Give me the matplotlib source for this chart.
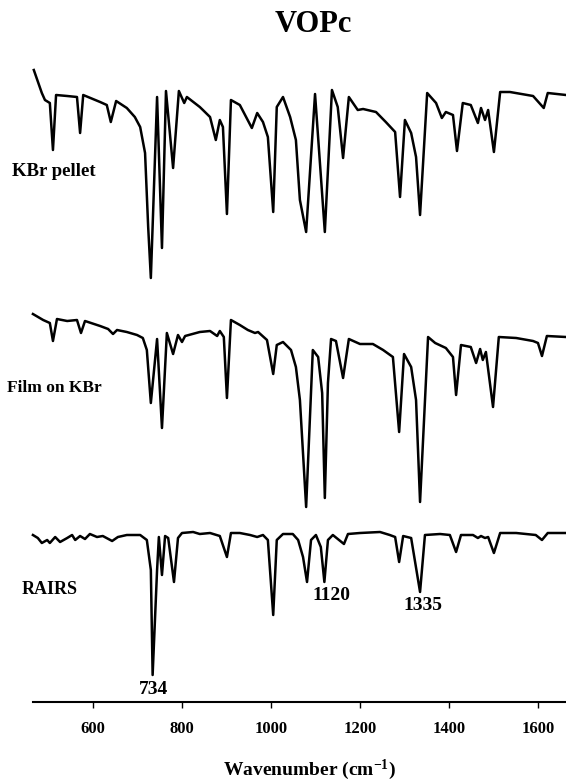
import matplotlib
matplotlib.use("Agg")
import matplotlib.pyplot as plt

# IR spectra of VOPc (wavenumber in cm-1, intensity in a.u.)
kbr_wn = [467, 485, 492, 503, 510, 517, 542, 564, 571, 578, 616, 631, 640, 652,
          676, 694, 706, 717, 724, 730, 744, 755, 764, 780, 793, 805, 811, 840,
          847, 863, 876, 885, 892, 901, 910, 930, 957, 969, 982, 993, 1005, 1013,
          1027, 1043, 1056, 1065, 1079, 1099, 1121, 1137, 1150, 1162, 1175, 1195,
          1207, 1236, 1258, 1279, 1290, 1301, 1315, 1326, 1335, 1351, 1371, 1384,
          1393, 1409, 1418, 1431, 1449, 1465, 1472, 1481, 1488, 1501, 1515, 1537,
          1589, 1613, 1622, 1663]
kbr_int = [25, 2, -5, -8, -55, 0, -1, -2, -38, 0, -7, -10, -27, -6,
           -13, -22, -32, -58, -132, -183, -2, -153, 4, -73, 4, -8, -2, -12,
           -15, -22, -45, -25, -32, -119, -5, -10, -33, -18, -27, -42, -117, -12,
           -2, -22, -45, -105, -137, 1, -137, 5, -12, -63, -2, -15,
           -14, -17, -27, -37, -102, -25, -38, -62, -120, 2, -8, -23,
           -17, -20, -56, -8, -10, -28, -13, -25, -15, -57, 3, 3,
           -1, -13, 2, 0]

film_wn = [465, 488, 503, 510, 519, 542, 564, 573, 582, 616, 634, 645, 654, 676,
           699, 712, 721, 730, 744, 755, 766, 780, 791, 800, 807, 840, 863, 879,
           885, 894, 901, 910, 930, 948, 964, 971, 991, 1005, 1013, 1027, 1045,
           1056, 1065, 1079, 1094, 1106, 1115, 1121, 1128, 1135, 1146, 1162, 1175,
           1200, 1229, 1252, 1274, 1288, 1299, 1315, 1326, 1335, 1353, 1369, 1393,
           1409, 1416, 1427, 1449, 1461, 1470, 1476, 1483, 1499, 1512, 1551, 1589,
           1600, 1609, 1620, 1663]
film_int = [21, 15, 12, -6, 16, 14, 15, 2, 14, 9, 6, 1, 5, 3,
            0, -3, -15, -68, -4, -93, 2, -19, 0, -7, -1, 3, 4, -1,
            4, -2, -63, 15, 10, 5, 2, 3, -5, -39, -10, -7, -15,
            -32, -65, -172, -15, -22, -58, -163, -48, -4, -6, -43, -4,
            -9, -9, -15, -22, -97, -19, -32, -65, -167, -2, -8, -13,
            -22, -60, -10, -12, -28, -14, -25, -17, -72, -2, -3, -6,
            -8, -21, -1, -2]

rairs_wn = [465, 476, 485, 497, 503, 515, 526, 542, 553, 560, 571, 582, 593, 609,
            622, 643, 656, 676, 706, 721, 730, 734, 744, 748, 755, 762, 769, 782,
            791, 800, 825, 840, 863, 885, 901, 910, 930, 953, 969, 982, 993, 1005,
            1013, 1027, 1049, 1061, 1072, 1081, 1090, 1101, 1112, 1120, 1128, 1139,
            1164, 1173, 1200, 1245, 1267, 1279, 1288, 1297, 1315, 1335, 1346, 1380,
            1402, 1416, 1427, 1454, 1465, 1472, 1481, 1488, 1501, 1515, 1551, 1595,
            1609, 1622, 1663]
rairs_int = [0, -3, -8, -5, -8, -2, -7, -3, 0, -5, -1, -4, 1, -2,
             -1, -6, -2, 0, 0, -5, -35, -140, -35, -2, -40, -1, -3, -47,
             -3, 2, 3, 1, 2, -1, -22, 2, 2, 0, -2, 0, -5, -80,
             -5, 1, 1, -5, -22, -47, -5, 0, -12, -47, -5, 0,
             -9, 1, 2, 3, 0, -2, -27, -1, -3, -57, 0, 1,
             0, -17, 0, 0, -3, -1, -3, -2, -18, 2, 2, 0,
             -5, 2, 2]

trace_names = ["KBr pellet", "Film on KBr", "RAIRS"]
trace_offsets = [607, 367, 167]
peak_labels = ["734", "1120", "1335"]
peak_label_pos = [(735, 12), (1135, 107), (1342, 97)]
xticks = [600, 800, 1000, 1200, 1400, 1600]

plt.rcParams['font.family'] = ['Liberation Serif', 'DejaVu Serif']
plt.rcParams['font.weight'] = 'bold'
plt.rcParams['mathtext.fontset'] = 'custom'
plt.rcParams['mathtext.rm'] = 'Liberation Serif:bold'
plt.rcParams['mathtext.bf'] = 'Liberation Serif:bold'
plt.rcParams['mathtext.default'] = 'bf'

fig = plt.figure(figsize=(5.66, 7.83), dpi=100)
ax = fig.add_axes([0, 81 / 783, 1, 1 - 81 / 783])

for wn, inten, off in zip([kbr_wn, film_wn, rairs_wn],
                          [kbr_int, film_int, rairs_int], trace_offsets):
    ax.plot(wn, [v + off for v in inten], color='black', lw=1.8,
            solid_joinstyle='round')

# side labels
ax.text(418, 530, trace_names[0], fontsize=13.5, fontweight='bold', va='center')
ax.text(407, 314, trace_names[1], fontsize=12.5, fontweight='bold', va='center')
ax.text(440, 112, trace_names[2], fontsize=13, fontweight='bold', va='center')

for lab, (px, py) in zip(peak_labels, peak_label_pos):
    ax.text(px, py, lab, fontsize=14, fontweight='bold', ha='center', va='center')

ax.set_xlim(391, 1663)
ax.set_ylim(0, 702)
for s in ['top', 'right', 'left']:
    ax.spines[s].set_visible(False)
ax.spines['bottom'].set_bounds(465, 1663)
ax.spines['bottom'].set_linewidth(1.5)
ax.set_yticks([])
ax.set_xticks(xticks)
ax.set_xticklabels([str(t) for t in xticks], fontsize=12, fontweight='bold')
ax.tick_params(axis='x', direction='out', length=4, width=1, pad=10)
ax.patch.set_visible(False)

fig.text(313 / 566, 1 - 25 / 783, "VOPc", fontsize=22, fontweight='bold',
         ha='center', va='center')
fig.text(309 / 566, 1 - 770 / 783, r"Wavenumber (cm$^{-1}$)", fontsize=14,
         fontweight='bold', ha='center', va='center')

fig.savefig("out.png", dpi=100)
